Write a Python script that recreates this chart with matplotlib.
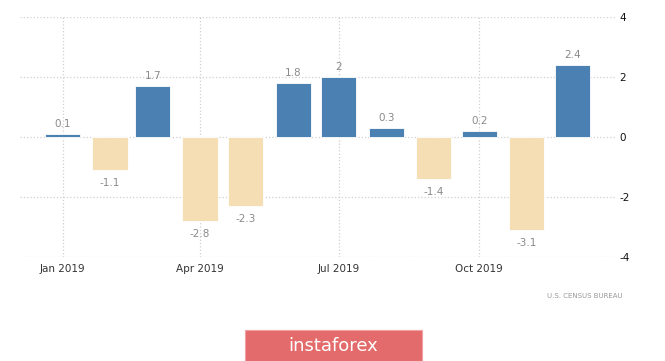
import matplotlib
matplotlib.use("Agg")
import matplotlib.pyplot as plt
import matplotlib.dates as mdates
import numpy as np
import pandas as pd
from matplotlib.patches import Rectangle

plt.rcParams["axes.unicode_minus"] = False

months = pd.date_range("2019-01-01", periods=12, freq="MS")
values = [0.1, -1.1, 1.7, -2.8, -2.3, 1.8, 2.0, 0.3, -1.4, 0.2, -3.1, 2.4]
labels = ["0.1", "-1.1", "1.7", "-2.8", "-2.3", "1.8", "2", "0.3", "-1.4", "0.2", "-3.1", "2.4"]
tick_dates = pd.to_datetime(["2019-01-01", "2019-04-01", "2019-07-01", "2019-10-01"])
tick_labels = ["Jan 2019", "Apr 2019", "Jul 2019", "Oct 2019"]
y_ticks = [-4, -2, 0, 2, 4]

BLUE = "#4a80b2"
BEIGE = "#f5deb3"

fig = plt.figure(figsize=(6.65, 3.61), dpi=100)
ax = fig.add_axes([0.030, 0.287, 0.895, 0.665])

colors = [BLUE if v >= 0 else BEIGE for v in values]
ax.bar(months, values, width=23, color=colors, edgecolor="white", linewidth=0.6, zorder=2)

for d, v, lab in zip(months, values, labels):
    if v >= 0:
        ax.annotate(lab, (mdates.date2num(d), v), xytext=(0, 4), textcoords="offset points",
                    ha="center", va="bottom", fontsize=7.5, color="#8a8a8a")
    else:
        ax.annotate(lab, (mdates.date2num(d), v), xytext=(0, -5.5), textcoords="offset points",
                    ha="center", va="top", fontsize=7.5, color="#8a8a8a")

ax.set_xlim(pd.Timestamp("2018-12-04"), pd.Timestamp("2019-12-29"))
ax.set_ylim(-4, 4)
ax.set_xticks(tick_dates)
ax.set_xticklabels(tick_labels)
ax.set_yticks(y_ticks)
ax.yaxis.tick_right()
ax.tick_params(axis="x", length=0, labelsize=7.5, labelcolor="#333333", pad=5)
ax.tick_params(axis="y", length=0, labelsize=7.5, labelcolor="#111111", pad=3)
for s in ax.spines.values():
    s.set_visible(False)
ax.grid(True, color="#d0d0d0", linestyle=":", linewidth=0.9, zorder=0)
ax.set_axisbelow(True)

fig.text(0.937, 0.18, "U.S. CENSUS BUREAU", fontsize=5, color="#999999",
         ha="right", va="center")

box = Rectangle((245 / 665, 0), 177 / 665, 31 / 361, transform=fig.transFigure,
                facecolor="#e46b6b", edgecolor="#f0a0a0", linewidth=0.8)
fig.add_artist(box)
fig.text(333 / 665, 15 / 361, "instaforex", fontsize=13, color="white",
         ha="center", va="center")

fig.savefig("out.png", dpi=100)
